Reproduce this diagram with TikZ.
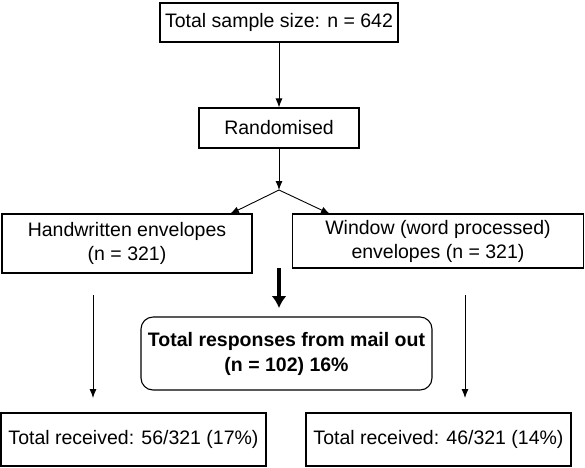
\documentclass[tikz,border=0pt]{standalone}
\usepackage{fontspec}
\setmainfont{Liberation Sans}
\usetikzlibrary{arrows.meta}
\tikzset{
  box/.style={draw, line width=1.1pt, inner sep=0pt, align=center, font=\fontsize{19.5}{24}\selectfont},
  rbox/.style={box, rounded corners=12pt, font=\fontsize{19.5}{25}\selectfont\bfseries},
  conn/.style={line width=0.9pt, -{Latex[length=9pt,width=7pt]}},
  thick conn/.style={line width=3.2pt, -{Latex[length=12pt,width=15pt]}},
  plain/.style={line width=0.9pt}
}
\begin{document}
\begin{tikzpicture}[x=1pt,y=-1pt]
\useasboundingbox (0,0) rectangle (585,467);
\node[box, minimum width=238pt, minimum height=39pt] (top) at (279,22.5) {Total sample size: n = 642};
\node[box, minimum width=160pt, minimum height=40pt] (rand) at (279,128) {Randomised};
\node[box, minimum width=250pt, minimum height=59pt] (hand) at (127,243.5) {Handwritten envelopes\\(n = 321)};
\node[box, minimum width=291pt, minimum height=54pt] (win) at (438,241) {Window (word processed)\\envelopes (n = 321)};
\node[rbox, minimum width=291pt, minimum height=73pt] (total) at (286.5,353.5) {Total responses from mail out\\(n = 102) 16\%};
\node[box, minimum width=265pt, minimum height=53pt] (lrec) at (133.5,439.5) {Total received: 56/321 (17\%)};
\node[box, minimum width=265pt, minimum height=53pt] (rrec) at (438.5,439.5) {Total received: 46/321 (14\%)};

\coordinate (J) at (279,190);
\coordinate (hl) at (230,214);
\coordinate (wr) at (330,214);
\coordinate (ts) at (279,268);
\coordinate (te) at (279,308);
\coordinate (ls) at (93,295);
\coordinate (le) at (93,398);
\coordinate (rs) at (465,295);
\coordinate (re) at (465,398);

\draw[conn] (top.south) -- (rand.north);
\draw[conn] (rand.south) -- (J);
\draw[conn] (J) -- (hl);
\draw[conn] (J) -- (wr);
\draw[thick conn] (ts) -- (te);
\draw[conn] (ls) -- (le);
\draw[conn] (rs) -- (re);
\end{tikzpicture}
\end{document}
